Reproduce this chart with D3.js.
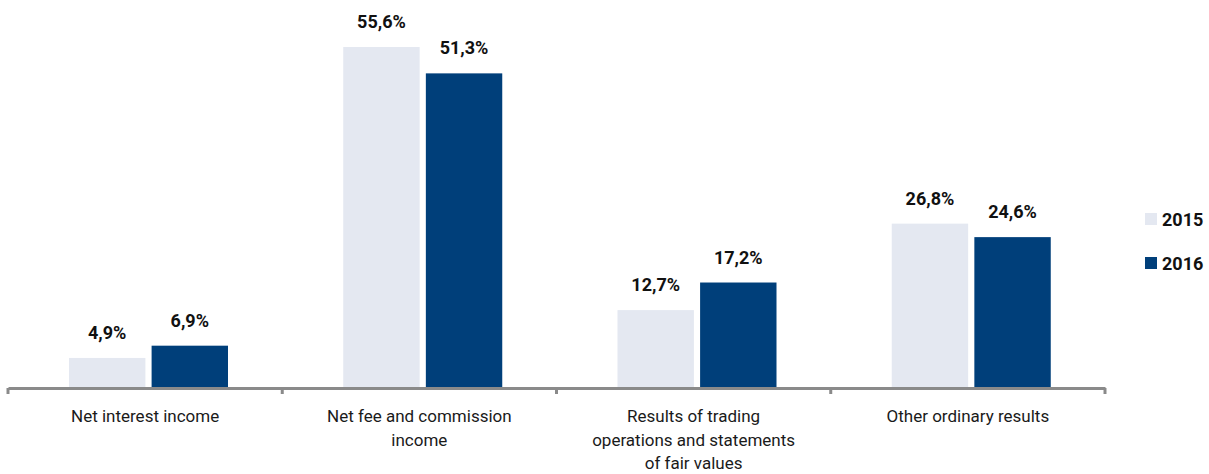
<!DOCTYPE html>
<html>
<head>
<meta charset="utf-8">
<script src="https://cdn.jsdelivr.net/npm/d3@7"></script>
<style>
  body { margin: 0; background: #fff; }
  svg { display: block; font-family: 'Roboto', sans-serif; }
</style>
</head>
<body>
<svg width="1209" height="474"></svg>
<script>
const categories = [
  ['Net interest income'],
  ['Net fee and commission', 'income'],
  ['Results  of trading', 'operations and statements', 'of fair values'],
  ['Other ordinary results']
]
const years = ['2015', '2016']
const values2015 = [4.9, 55.6, 12.7, 26.8]
const values2016 = [6.9, 51.3, 17.2, 24.6]
const colors = ['#e4e8f1', '#003f7a']

const svg = d3.select('svg'),
  baseY = 388,
  x = d3.scaleBand().domain(d3.range(categories.length)).range([8, 1105]),
  xs = d3.scaleBand().domain(years).range([69, 228]).paddingInner(0.075),
  y = d3.scaleLinear().domain([0, 55.6]).range([baseY, 47])

const series = years.map((yr, i) => ({ yr, values: i === 0 ? values2015 : values2016 }))

const groups = svg.selectAll('g.cat')
  .data(categories)
  .join('g')
  .attr('class', 'cat')
  .attr('transform', (d, i) => `translate(${x(i) - x(0)},0)`)

series.forEach((s, si) => {
  groups.append('rect')
    .attr('x', xs(s.yr))
    .attr('width', xs.bandwidth())
    .attr('y', (d, i) => y(s.values[i]))
    .attr('height', (d, i) => baseY - y(s.values[i]))
    .attr('fill', colors[si])
  groups.append('text')
    .attr('x', xs(s.yr) + xs.bandwidth() / 2)
    .attr('y', (d, i) => y(s.values[i]) - 19)
    .attr('text-anchor', 'middle')
    .attr('font-size', 18)
    .attr('font-weight', 'bold')
    .attr('fill', '#111')
    .text((d, i) => s.values[i].toFixed(1).replace('.', ',') + '%')
})

// axis
const axis = d3.axisBottom(x)
  .tickValues([])
  .tickSizeOuter(0)
const gAxis = svg.append('g').attr('transform', `translate(0,${baseY})`)
gAxis.call(axis)
gAxis.select('.domain').attr('stroke', '#8a8a8a').attr('stroke-width', 3)
gAxis.selectAll('.sep')
  .data(d3.range(categories.length + 1))
  .join('line')
  .attr('class', 'sep')
  .attr('x1', i => i < categories.length ? x(i) : x.range()[1])
  .attr('x2', i => i < categories.length ? x(i) : x.range()[1])
  .attr('y1', 0)
  .attr('y2', 6)
  .attr('stroke', '#8a8a8a')
  .attr('stroke-width', 3)

// category labels
groups.append('text')
  .attr('text-anchor', 'middle')
  .attr('font-size', 17)
  .attr('fill', '#1a1a1a')
  .each(function (d) {
    d3.select(this).selectAll('tspan')
      .data(d)
      .join('tspan')
      .attr('x', x(0) + x.bandwidth() / 2)
      .attr('y', (t, j) => 422 + j * 23.5)
      .text(t => t)
  })

// legend
const legend = svg.append('g')
series.forEach((s, si) => {
  legend.append('rect')
    .attr('x', 1145).attr('y', 213 + si * 44)
    .attr('width', 12).attr('height', 12)
    .attr('fill', colors[si])
  legend.append('text')
    .attr('x', 1162).attr('y', 226 + si * 44)
    .attr('font-size', 18).attr('font-weight', 'bold')
    .attr('fill', '#111')
    .text(s.yr)
})
</script>
</body>
</html>
